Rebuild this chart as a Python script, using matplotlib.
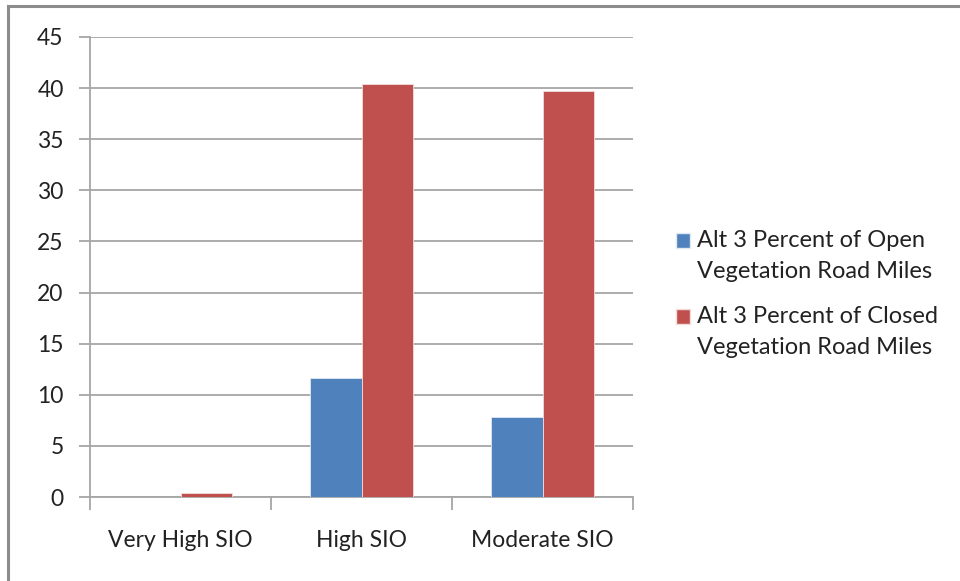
import matplotlib.pyplot as plt
import numpy as np
from matplotlib.lines import Line2D
from matplotlib.patches import Patch, Rectangle
from matplotlib.legend_handler import HandlerPatch

plt.rcParams['font.family'] = ['Lato', 'DejaVu Sans']

categories = ['Very High SIO', 'High SIO', 'Moderate SIO']
open_pct = [0.0, 11.6, 7.85]
closed_pct = [0.35, 40.45, 39.7]
series_labels = ['Alt 3 Percent of Open\nVegetation Road Miles',
                 'Alt 3 Percent of Closed\nVegetation Road Miles']
blue = '#4F81BD'
red = '#C0504D'

W, H = 960, 581
fs = 16.5
lfs = 17
lsp = 1.6
fig = plt.figure(figsize=(W / 100, H / 100), dpi=100)
ax = fig.add_axes([90 / W, 1 - 497 / H, (633 - 90) / W, (497 - 37) / H])

x = np.arange(len(categories))
bw = 0.287
ax.bar(x - bw / 2, open_pct, bw, color=blue, edgecolor='#dfe8f3', linewidth=0.6, zorder=3)
ax.bar(x + bw / 2, closed_pct, bw, color=red, edgecolor='#f2dcdb', linewidth=0.6, zorder=3)

ax.set_xlim(-0.5, len(categories) - 0.5)
ax.set_ylim(0, 45)
ax.set_yticks(np.arange(0, 46, 5))
ax.yaxis.grid(True, color='#a6a6a6', linewidth=1.3, zorder=0)
for s in ['top', 'right']:
    ax.spines[s].set_visible(False)
for s in ['left', 'bottom']:
    ax.spines[s].set_color('#a6a6a6')
    ax.spines[s].set_linewidth(1.3)

ax.set_xticks(x)
ax.set_xticklabels(categories)
ax.set_xticks(np.arange(-0.5, len(categories)), minor=True)
ax.tick_params(axis='x', which='major', length=0, pad=24, labelsize=fs, labelcolor='#222222')
ax.tick_params(axis='x', which='minor', length=9, width=1.3, color='#a6a6a6')
ax.tick_params(axis='y', length=8, width=1.3, color='#a6a6a6', pad=11,
               labelsize=fs, labelcolor='#222222')


# legend key sits next to the first line of each two-line label
def top_key(legend, orig_handle, xdescent, ydescent, width, height, fontsize):
    return Rectangle((-xdescent, -ydescent + 0.42 * lsp * fontsize), width, height)


handles = [Patch(facecolor=blue, edgecolor='#dfe8f3'), Patch(facecolor=red, edgecolor='#f2dcdb')]
leg = fig.legend(handles, series_labels, loc='upper left', bbox_to_anchor=(676 / W, 1 - 230 / H),
                 frameon=False, fontsize=lfs, handlelength=0.6, handleheight=0.6,
                 handletextpad=0.3, labelspacing=1.0, borderaxespad=0, borderpad=0,
                 handler_map={Patch: HandlerPatch(patch_func=top_key)})
for t in leg.get_texts():
    t.set_color('#222222')
    t.set_linespacing(lsp)

# outer frame: top and left edges only
fig.add_artist(Line2D([8 / W, 8 / W], [0, 1 - 6 / H], transform=fig.transFigure,
                      color='#8c8c8c', linewidth=2.2))
fig.add_artist(Line2D([8 / W, 1], [1 - 6 / H, 1 - 6 / H], transform=fig.transFigure,
                      color='#8c8c8c', linewidth=2.2))

fig.savefig('out.png', dpi=100)
